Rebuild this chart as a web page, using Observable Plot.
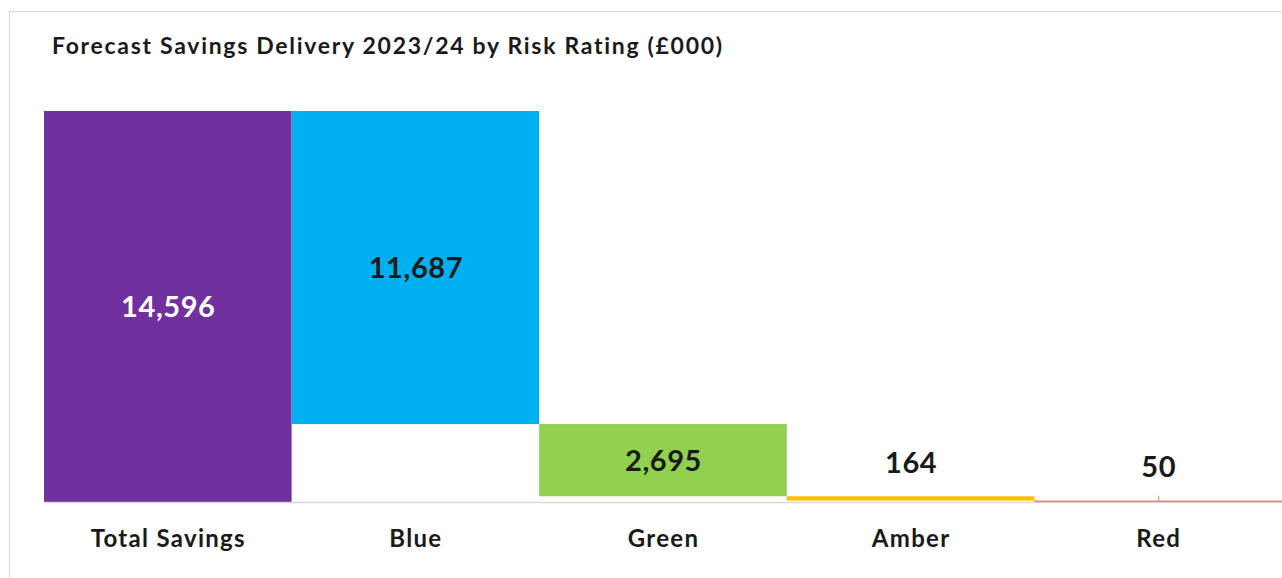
<!DOCTYPE html>
<html>
<head>
<meta charset="utf-8">
<script src="https://cdn.jsdelivr.net/npm/d3@7"></script>
<script src="https://cdn.jsdelivr.net/npm/@observablehq/plot@0.6"></script>
<style>
  html, body { margin: 0; padding: 0; background: #fff; width: 1282px; height: 578px; overflow: hidden; }
  #frame { position: absolute; left: 9px; top: 11px; width: 1400px; height: 700px; border: 1px solid #d9d9d9; box-sizing: border-box; }
  #title { position: absolute; left: 52px; top: 31px; font-family: Lato, "Open Sans", sans-serif; font-weight: 700; font-size: 23px; letter-spacing: 1.7px; color: #1a1a1a; white-space: nowrap; }
  #chart { position: absolute; left: 0; top: 80px; }
</style>
</head>
<body>
<div id="frame"></div>
<div id="title">Forecast Savings Delivery 2023/24 by Risk Rating (£000)</div>
<div id="chart"></div>
<script>
const categories = ["Total Savings", "Blue", "Green", "Amber", "Red"];
const values = [14596, 11687, 2695, 164, 50];
const valueLabels = ["14,596", "11,687", "2,695", "164", "50"];
const colors = ["#7030A0", "#00B0F0", "#92D050", "#FFC000", "#FF4F4F"];
const labelColors = ["#ffffff", "#1a1a1a", "#1a1a1a", "#1a1a1a", "#1a1a1a"];

// waterfall: first is total from 0, the rest step down from the total
const rows = [];
let level = values[0];
categories.forEach((c, i) => {
  if (i === 0) {
    rows.push({cat: c, y1: 0, y2: values[0], label: valueLabels[i], color: colors[i], lc: labelColors[i], inside: true});
  } else {
    const top = level, bottom = level - values[i];
    rows.push({cat: c, y1: bottom, y2: top, label: valueLabels[i], color: colors[i], lc: labelColors[i], inside: values[i] > 1000});
    level = bottom;
  }
});

const font = 'Lato, "Open Sans", sans-serif';
const chart = Plot.plot({
  width: 1282,
  height: 498,
  marginLeft: 44,
  marginRight: 0,
  marginTop: 31,
  marginBottom: 76,
  style: {fontFamily: font, background: "transparent"},
  x: {domain: categories, padding: 0, round: false, label: null},
  y: {domain: [0, values[0]], axis: null},
  marks: [
    Plot.barY(rows, {x: "cat", y1: "y1", y2: "y2", fill: "color", inset: 0}),
    Plot.ruleY([0], {stroke: "#d9d9d9", strokeWidth: 1.5}),
    Plot.ruleX(["Red"], {x: d => d, y1: 0, y2: values[0] * 0.016, stroke: "#999", strokeWidth: 1}),
    Plot.text(rows.filter(d => d.inside), {x: "cat", y: d => (d.y1 + d.y2) / 2, text: "label", fill: "lc", fontSize: 29, fontWeight: 700, dy: 1}),
    Plot.text(rows.filter(d => !d.inside), {x: "cat", y: "y2", text: "label", fill: "lc", fontSize: 29, fontWeight: 700, dy: -33}),
    Plot.axisX({tickSize: 0, tickPadding: 27, fontSize: 24, fontWeight: 700, fill: "#1a1a1a", label: null})
  ]
});
chart.querySelectorAll('g[aria-label="x-axis tick label"] text').forEach(t => { t.setAttribute("font-weight", "700"); t.setAttribute("letter-spacing", "1.3"); });
chart.querySelectorAll('g[aria-label="text"] text').forEach(t => t.setAttribute("letter-spacing", "0.6"));
document.getElementById("chart").appendChild(chart);
</script>
</body>
</html>
